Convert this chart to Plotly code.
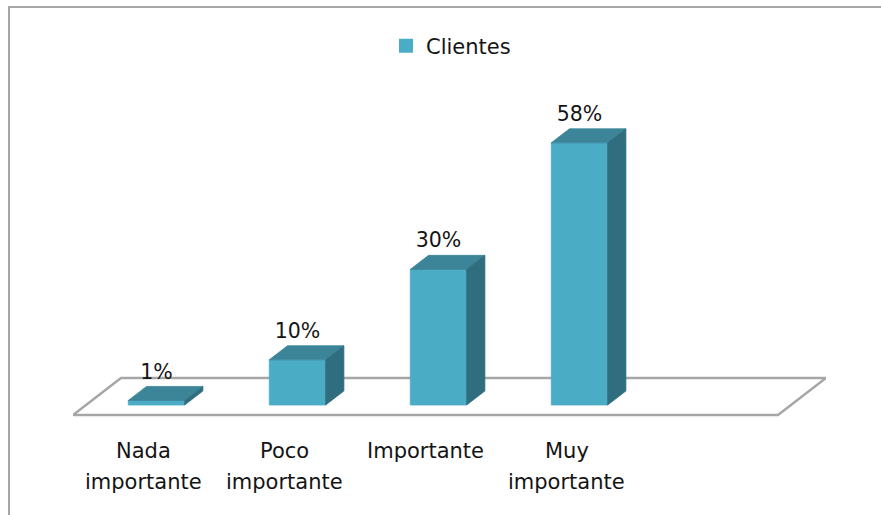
import plotly.graph_objects as go

# Survey result: importance rating given by clients
categories = ["Nada importante", "Poco importante", "Importante", "Muy importante"]
label_lines = [["Nada", "importante"], ["Poco", "importante"], ["Importante"], ["Muy", "importante"]]
clientes = [1, 10, 30, 58]
series_name = "Clientes"

# Canvas and plot-area geometry (pixels)
W, H = 881, 515
ML, MR, MT, MB = 73, 55, 30, 80
PX_PER_UNIT_X = 141.0     # pixels per category slot
PX_PER_UNIT_Y = 4.52      # pixels per percentage point
N_SLOTS = 5               # floor spans one empty slot after the last category
FLOOR_PX = 415            # pixel row of the floor's front edge

# Oblique projection for the fake 3-D look: one unit of depth moves right/up
KX = 48 / PX_PER_UNIT_X
KY = 37 / PX_PER_UNIT_Y
Z_FRONT, Z_BACK = 0.27, 0.65   # bar depth inside the floor
HALF_W = 0.2                   # half bar width in slot units

plot_w = W - ML - MR
plot_h = H - MT - MB
x_range = [-0.5, -0.5 + plot_w / PX_PER_UNIT_X]
y_min = -((H - MB) - FLOOR_PX) / PX_PER_UNIT_Y
y_range = [y_min, y_min + plot_h / PX_PER_UNIT_Y]

FRONT = "#4BACC6"
TOP = "#3C8598"
SIDE = "#306E7F"
TEXT = "#141414"
FONT = "DejaVu Sans"


def proj(x, y, z):
    return x + z * KX, y + z * KY


def poly(points):
    xs, ys = zip(*[proj(*p) for p in points])
    return list(xs) + [xs[0]], list(ys) + [ys[0]]


def paper_x(px):
    return (px - ML) / plot_w


def paper_y(py):
    return (H - MB - py) / plot_h


fig = go.Figure()

# Floor
fx, fy = poly([(-0.5, 0, 0), (-0.5 + N_SLOTS, 0, 0), (-0.5 + N_SLOTS, 0, 1), (-0.5, 0, 1)])
fig.add_trace(go.Scatter(x=fx, y=fy, mode="lines", fill="toself", fillcolor="white",
                         line=dict(color="#A6A6A6", width=2.5), hoverinfo="skip",
                         showlegend=False))

# Bars: front, top and side faces
for i, v in enumerate(clientes):
    x0, x1 = i - HALF_W, i + HALF_W
    faces = [
        ([(x0, 0, Z_FRONT), (x1, 0, Z_FRONT), (x1, v, Z_FRONT), (x0, v, Z_FRONT)], FRONT),
        ([(x0, v, Z_FRONT), (x1, v, Z_FRONT), (x1, v, Z_BACK), (x0, v, Z_BACK)], TOP),
        ([(x1, 0, Z_FRONT), (x1, 0, Z_BACK), (x1, v, Z_BACK), (x1, v, Z_FRONT)], SIDE),
    ]
    for pts, col in faces:
        px, py = poly(pts)
        fig.add_trace(go.Scatter(x=px, y=py, mode="lines", fill="toself", fillcolor=col,
                                 line=dict(color=col, width=0.8), hoverinfo="skip",
                                 showlegend=False))

# Value labels above each bar
lab_x = [i + Z_FRONT * KX for i in range(len(clientes))]
lab_y = [v + Z_BACK * KY + 13 / PX_PER_UNIT_Y for v in clientes]
fig.add_trace(go.Scatter(x=lab_x, y=lab_y, mode="text",
                         text=[f"{v}%" for v in clientes], textposition="middle center",
                         textfont=dict(family=FONT, size=20.5, color=TEXT),
                         hoverinfo="skip", showlegend=False, cliponaxis=False))

# Legend entry
fig.add_trace(go.Scatter(x=[None], y=[None], mode="markers", name=series_name,
                         marker=dict(symbol="square", size=14, color=FRONT)))

# Category labels, one annotation per text line, below the floor
annotations = []
for i, lines in enumerate(label_lines):
    for k, line in enumerate(lines):
        annotations.append(dict(
            x=i, y=paper_y(451 + 31 * k), xref="x", yref="paper",
            text=line, showarrow=False, xanchor="center", yanchor="middle",
            font=dict(family=FONT, size=21, color=TEXT)))

fig.update_layout(
    width=W, height=H,
    margin=dict(l=ML, r=MR, t=MT, b=MB),
    paper_bgcolor="white", plot_bgcolor="white",
    xaxis=dict(range=x_range, visible=False, fixedrange=True),
    yaxis=dict(range=y_range, visible=False, fixedrange=True),
    annotations=annotations,
    showlegend=True,
    legend=dict(orientation="h", x=paper_x(386), y=paper_y(46), xanchor="left", yanchor="middle",
                font=dict(family=FONT, size=21, color=TEXT), bgcolor="rgba(0,0,0,0)",
                itemwidth=30),
    shapes=[dict(type="rect", xref="paper", yref="paper",
                 x0=paper_x(9), y0=paper_y(530), x1=paper_x(900), y1=paper_y(7),
                 line=dict(color="#A6A6A6", width=2), fillcolor="rgba(0,0,0,0)",
                 layer="below")],
)

fig.write_html("out.html")
